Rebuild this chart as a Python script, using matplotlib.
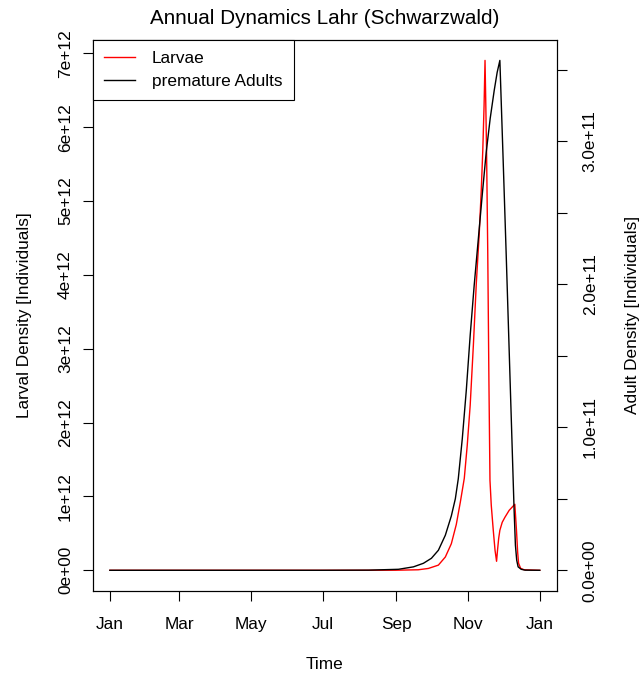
import numpy as np
import matplotlib
matplotlib.use("Agg")
import matplotlib.pyplot as plt

plt.rcParams['font.family'] = ['Liberation Sans', 'DejaVu Sans']

# ---------------- data ----------------
# day of year, larval density in units of 1e12
larvae_day = np.array([0, 60, 120, 180, 242.5, 261.8, 270.4, 278.9, 284.8, 289.9,
                       294.1, 297.5, 300.9, 303.4, 305.9, 308.6, 311.1, 313.6,
                       315.3, 316.6, 317.7, 318.5, 319.1, 319.8, 320.8, 321.8,
                       322.7, 323.8, 325.5, 327.0, 328.3, 329.1, 330.1, 331.1,
                       333.1, 335.4, 339.0, 343.8, 345.2, 346.2, 347.0, 348.7,
                       351.7, 365])
larvae_val = np.array([0, 0, 0, 0, 0.001, 0.007, 0.025, 0.07, 0.18, 0.36,
                       0.62, 0.92, 1.246, 1.692, 2.234, 3.046, 3.886, 4.563,
                       5.145, 5.687, 6.296, 6.905, 6.364, 5.687, 4.333, 2.572,
                       1.219, 0.880, 0.542, 0.271, 0.122, 0.271, 0.433, 0.542,
                       0.650, 0.718, 0.812, 0.894, 0.542, 0.244, 0.095, 0.027,
                       0.007, 0])

# day of year, premature adult density in units of 1e11
adult_day = np.array([0, 60, 120, 180, 219.6, 245.0, 257.7, 266.2, 273.0, 278.9,
                      284.8, 289.9, 293.3, 295.8, 299.2, 302.6, 305.9, 309.3,
                      312.7, 316.1, 319.5, 322.9, 326.3, 328.8, 331.1, 333.9,
                      336.5, 339.0, 341.1, 342.4, 343.2, 344.3, 345.4, 346.6,
                      349.2, 352.6, 365])
adult_val = np.array([0, 0, 0, 0, 0.001, 0.007, 0.024, 0.049, 0.084, 0.140,
                      0.245, 0.380, 0.500, 0.640, 0.920, 1.258, 1.642, 1.992,
                      2.306, 2.621, 2.921, 3.159, 3.354, 3.480, 3.564, 2.865,
                      2.201, 1.537, 0.978, 0.629, 0.419, 0.175, 0.070, 0.024,
                      0.007, 0.001, 0])

month_days = [0, 59, 120, 181, 243, 304, 365]
month_labels = ["Jan", "Mar", "May", "Jul", "Sep", "Nov", "Jan"]

larval_ticks = [0, 1e12, 2e12, 3e12, 4e12, 5e12, 6e12, 7e12]
larval_labels = ["0e+00", "1e+12", "2e+12", "3e+12", "4e+12", "5e+12", "6e+12", "7e+12"]

adult_ticks = [0, 0.5e11, 1e11, 1.5e11, 2e11, 2.5e11, 3e11, 3.5e11]
adult_labels = ["0.0e+00", "", "1.0e+11", "", "2.0e+11", "", "3.0e+11", ""]

FS = 12.4

# ---------------- plot ----------------
fig = plt.figure(figsize=(6.4, 6.76), dpi=100)
ax = fig.add_axes([0.1448, 0.1262, 0.7255, 0.8146])
ax2 = ax.twinx()

l1, = ax.plot(larvae_day, larvae_val * 1e12, color="red", lw=1.0, label="Larvae")
l2, = ax2.plot(adult_day, adult_val * 1e11, color="black", lw=1.0, label="premature Adults")

# R style 4% padding around the data range
ax.margins(x=0.04, y=0.04)
ax2.margins(x=0.04, y=0.04)

ax.set_xticks(month_days)
ax.set_xticklabels(month_labels, fontsize=FS)
ax.set_yticks(larval_ticks)
ax.set_yticklabels(larval_labels, fontsize=FS, rotation=90, va="center", ha="right")
ax2.set_yticks(adult_ticks)
ax2.set_yticklabels(adult_labels, fontsize=FS, rotation=90, va="center", ha="left")

for a in [ax, ax2]:
    a.tick_params(direction="out", length=7.2, width=0.8, pad=7, colors="black")
    for s in a.spines.values():
        s.set_linewidth(0.8)
        s.set_color("black")
ax.tick_params(axis="x", pad=12)
ax2.tick_params(axis="y", pad=11.3)

ax.set_title("Annual Dynamics Lahr (Schwarzwald)", fontsize=14.9, pad=11.5)
ax.set_xlabel("Time", fontsize=FS, labelpad=17.6)
ax.set_ylabel("Larval Density [Individuals]", fontsize=FS, labelpad=18.6)
ax2.set_ylabel("Adult Density [Individuals]", fontsize=FS, labelpad=20)

leg = ax2.legend([l1, l2], ["Larvae", "premature Adults"], loc="upper left",
                 bbox_to_anchor=(0, 1), borderaxespad=0, fancybox=False,
                 framealpha=1, edgecolor="black", fontsize=FS,
                 handlelength=1.8, handletextpad=1.0, borderpad=0.65,
                 labelspacing=0.45)
leg.get_frame().set_linewidth(0.8)

fig.savefig("out.png", dpi=100)
